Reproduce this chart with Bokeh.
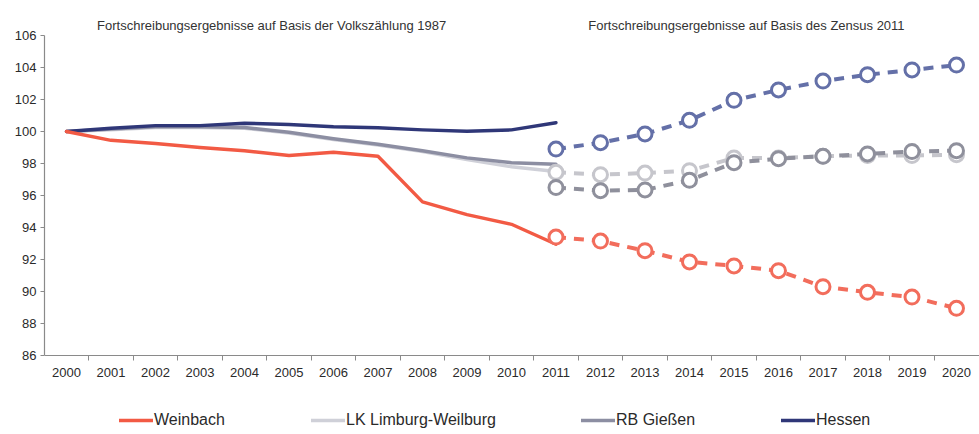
from bokeh.plotting import figure
from bokeh.models import Range1d, FixedTicker, Label, Legend, LegendItem
from bokeh.embed import file_html
from bokeh.resources import INLINE

# ---------------- data ----------------
years_hist = list(range(2000, 2012))
years_proj = list(range(2011, 2021))
all_years = list(range(2000, 2021))
y_ticks = list(range(86, 107, 2))

series_names = ["Weinbach", "LK Limburg-Weilburg", "RB Gießen", "Hessen"]

weinbach_hist = [100.0, 99.45, 99.25, 99.0, 98.8, 98.5, 98.7, 98.45, 95.6, 94.8, 94.2, 92.95]
lk_hist = [100.0, 100.1, 100.25, 100.25, 100.2, 99.9, 99.5, 99.15, 98.75, 98.25, 97.8, 97.5]
rb_hist = [100.0, 100.15, 100.3, 100.3, 100.25, 99.95, 99.55, 99.2, 98.8, 98.35, 98.05, 97.95]
hessen_hist = [100.0, 100.2, 100.37, 100.37, 100.52, 100.44, 100.3, 100.23, 100.1, 100.02, 100.1, 100.55]

weinbach_proj = [93.4, 93.15, 92.55, 91.85, 91.6, 91.3, 90.3, 89.95, 89.65, 88.95]
lk_proj = [97.45, 97.3, 97.4, 97.55, 98.35, 98.35, 98.45, 98.5, 98.5, 98.55]
rb_proj = [96.5, 96.3, 96.35, 96.95, 98.05, 98.3, 98.45, 98.6, 98.75, 98.8]
hessen_proj = [98.9, 99.3, 99.85, 100.7, 101.95, 102.6, 103.15, 103.55, 103.85, 104.15]

title_left = "Fortschreibungsergebnisse auf Basis der Volkszählung 1987"
title_right = "Fortschreibungsergebnisse auf Basis des Zensus 2011"

# ---------------- styles ----------------
FONT = "Liberation Sans"
solid_colors = ["#f25a44", "#cfd0d8", "#8c8ea2", "#2f3778"]
dash_colors = ["#f26d5c", "#c6c6cc", "#8f909c", "#6470a8"]

Y_MIN = y_ticks[0]
Y_MAX = y_ticks[-1]

p = figure(width=979, height=434,
           x_range=Range1d(1999.506, 2020.517), y_range=Range1d(81.0625, 107.875),
           output_backend="svg", toolbar_location=None,
           min_border_left=44, min_border_right=0, min_border_top=5, min_border_bottom=0)
p.outline_line_color = None
p.xgrid.visible = False
p.ygrid.visible = False
p.background_fill_color = "white"
p.border_fill_color = "white"

hist = [weinbach_hist, lk_hist, rb_hist, hessen_hist]
proj = [weinbach_proj, lk_proj, rb_proj, hessen_proj]

renderers = {}
for idx in [1, 2, 3, 0]:
    r = p.line(years_hist, hist[idx], line_color=solid_colors[idx], line_width=3.4,
               line_join="round", line_cap="round")
    renderers[idx] = r

for idx in [1, 2, 0, 3]:
    p.line(years_proj, proj[idx], line_color=dash_colors[idx], line_width=4,
           line_dash="10 8")
    p.scatter(years_proj, proj[idx], marker="circle", size=14, line_color=dash_colors[idx],
              line_width=3, fill_color="white")

# ---------------- axes ----------------
ax = p.xaxis[0]
ax.fixed_location = Y_MIN
ax.ticker = FixedTicker(ticks=all_years, minor_ticks=[y - 0.5 for y in all_years])
ax.major_tick_out = 0
ax.major_tick_in = 0
ax.minor_tick_out = 5
ax.minor_tick_in = 0
ax.minor_tick_line_color = "#8a8a8a"
ax.axis_line_color = "#8a8a8a"
ax.axis_line_width = 1.2
ax.major_label_text_font = FONT
ax.major_label_text_font_size = "13px"
ax.major_label_text_color = "#2a2a2a"
ax.major_label_standoff = 7

ay = p.yaxis[0]
ay.ticker = FixedTicker(ticks=y_ticks)
ay.bounds = (Y_MIN, Y_MAX)
ay.major_tick_out = 4
ay.major_tick_in = 0
ay.minor_tick_out = 0
ay.minor_tick_in = 0
ay.major_tick_line_color = "#8a8a8a"
ay.axis_line_color = "#8a8a8a"
ay.axis_line_width = 1.2
ay.major_label_text_font = FONT
ay.major_label_text_font_size = "13px"
ay.major_label_text_color = "#2a2a2a"
ay.major_label_standoff = 4

# ---------------- titles ----------------
for txt, xpos in [(title_left, 2004.61), (title_right, 2015.28)]:
    p.add_layout(Label(x=xpos, y=106.6, text=txt, text_align="center",
                       text_baseline="middle", text_font=FONT,
                       text_font_size="13px", text_color="#333333"))

# ---------------- legend ----------------
legend_x = [75, 267, 537, 737]
for i in range(4):
    leg = Legend(items=[LegendItem(label=series_names[i], renderers=[renderers[i]])],
                 location=(legend_x[i], 5), orientation="horizontal",
                 padding=0, margin=0, spacing=0, glyph_width=34, glyph_height=14,
                 label_height=14, label_standoff=1,
                 border_line_alpha=0, background_fill_alpha=0,
                 label_text_font=FONT, label_text_font_size="16px",
                 label_text_color="#2a2a2a")
    p.add_layout(leg)

open("out.html", "w").write(file_html(p, INLINE))
